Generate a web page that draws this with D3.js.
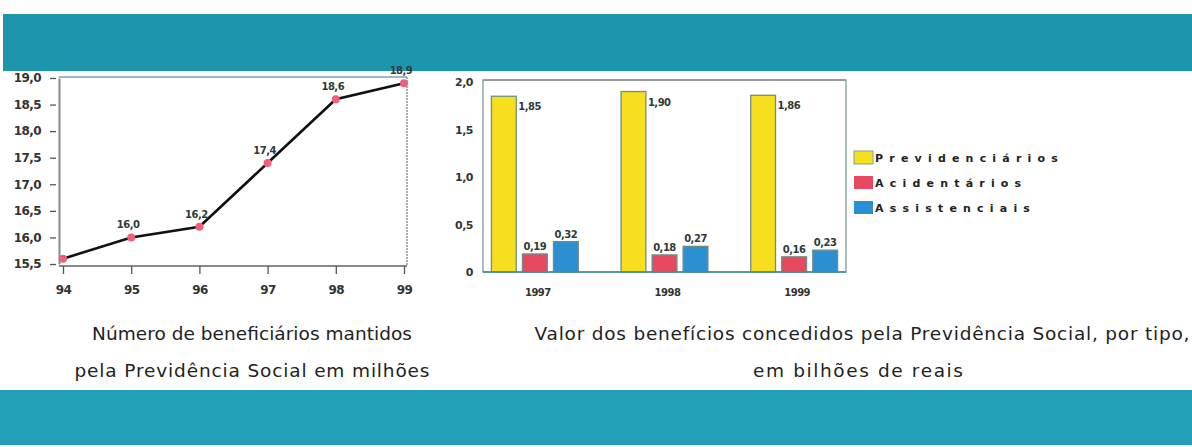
<!DOCTYPE html>
<html>
<head>
<meta charset="utf-8">
<script src="https://cdn.jsdelivr.net/npm/d3@7"></script>
<style>
  html, body { margin: 0; padding: 0; background: #ffffff; }
  svg { display: block; }
</style>
</head>
<body>
<svg id="chart" width="1192" height="447"></svg>
<script>
// Beneficiários mantidos (milhões), 1994-1999
const years = ["94", "95", "96", "97", "98", "99"];
const beneficiarios = [15.6, 16.0, 16.2, 17.4, 18.6, 18.9];
const beneficiariosLabeled = [false, true, true, true, true, true];
const lineTicks = [15.5, 16.0, 16.5, 17.0, 17.5, 18.0, 18.5, 19.0];

// Valor dos benefícios concedidos (bilhões de reais), por tipo
const barYears = ["1997", "1998", "1999"];
const seriesNames = ["Previdenciários", "Acidentários", "Assistenciais"];
const previdenciarios = [1.85, 1.90, 1.86];
const acidentarios = [0.19, 0.18, 0.16];
const assistenciais = [0.32, 0.27, 0.23];
const barTicks = [0, 0.5, 1.0, 1.5, 2.0];

const seriesColors = ["#f6e01e", "#e5485f", "#2b8fd2"];
const seriesValues = [previdenciarios, acidentarios, assistenciais];

const svg = d3.select("#chart");
const comma = (f) => (v) => d3.format(f)(v).replace(".", ",");

// Decorative bands
svg.append("rect").attr("x", 3).attr("y", 14).attr("width", 1189).attr("height", 57)
  .attr("fill", "#1c95ad");
svg.append("rect").attr("x", 0).attr("y", 390).attr("width", 1192).attr("height", 55)
  .attr("fill", "#22a0b8");

const tickFont = "'DejaVu Sans', Verdana, sans-serif";

// ---------- Line chart ----------
const lx = d3.scalePoint().domain(years).range([63, 404]);
const ly = d3.scaleLinear().domain([15.5, 19.0]).range([264, 78]);

const lg = svg.append("g");
// frame: top and right border
lg.append("line").attr("x1", 59).attr("x2", 407).attr("y1", 77).attr("y2", 77)
  .attr("stroke", "#7fa3a8").attr("stroke-width", 1.5);
lg.append("line").attr("x1", 407).attr("x2", 407).attr("y1", 77).attr("y2", 266)
  .attr("stroke", "#8a9a9a").attr("stroke-width", 1.5).attr("stroke-dasharray", "2,1");

const lyAxis = lg.append("g").attr("transform", "translate(59,0)")
  .call(d3.axisLeft(ly).tickValues(lineTicks).tickFormat(comma(".1f")).tickSize(9).tickSizeOuter(0));
const lxAxis = lg.append("g").attr("transform", "translate(0,266)")
  .call(d3.axisBottom(lx).tickSize(8).tickSizeOuter(0));
lxAxis.select(".domain").attr("d", "M59,0H407");
[lyAxis, lxAxis].forEach(a => {
  a.select(".domain").attr("stroke", "#8a8a8a").attr("stroke-width", 2);
  a.selectAll(".tick line").attr("stroke", "#555").attr("stroke-width", 1.3);
  a.selectAll("text").attr("fill", "#333").attr("font-family", tickFont)
    .attr("font-weight", "bold").attr("font-size", 12).attr("letter-spacing", -0.6);
});
lyAxis.selectAll(".tick line").attr("x1", -3);
lyAxis.selectAll("text").attr("x", -18);
lxAxis.selectAll("text").attr("y", 19);

const lineGen = d3.line().x((d, i) => lx(years[i])).y(d => ly(d));
lg.append("path").datum(beneficiarios).attr("d", lineGen)
  .attr("fill", "none").attr("stroke", "#111").attr("stroke-width", 2.6);
lg.selectAll("circle.pt").data(beneficiarios).join("circle")
  .attr("class", "pt")
  .attr("cx", (d, i) => lx(years[i])).attr("cy", d => ly(d)).attr("r", 4)
  .attr("fill", "#f0607a");
lg.selectAll("text.val").data(beneficiarios.filter((d, i) => beneficiariosLabeled[i]))
  .join("text").attr("class", "val")
  .attr("x", (d) => lx(years[beneficiarios.indexOf(d)]) - 3)
  .attr("y", d => ly(d) - 9)
  .attr("text-anchor", "middle")
  .attr("font-family", tickFont).attr("font-weight", "bold").attr("font-size", 10)
  .attr("letter-spacing", -0.5).attr("fill", "#2f3a3a")
  .text(comma(".1f"));

// ---------- Bar chart ----------
const bx0 = d3.scaleBand().domain(barYears).range([483, 846]).paddingInner(0.33).paddingOuter(0.065);
const bx1 = d3.scaleBand().domain(seriesNames).range([0, bx0.bandwidth()]).paddingInner(0.2);
const by = d3.scaleLinear().domain([0, 2.0]).range([272, 82]);

const bg = svg.append("g");
bg.append("rect").attr("x", 483).attr("y", 80).attr("width", 363).attr("height", 192)
  .attr("fill", "none").attr("stroke", "#8fa8a8").attr("stroke-width", 1.5);
bg.append("line").attr("x1", 483).attr("x2", 846).attr("y1", 80).attr("y2", 80)
  .attr("stroke", "#9a9a9a").attr("stroke-width", 2);

const byAxis = bg.append("g").attr("transform", "translate(483,0)")
  .call(d3.axisLeft(by).tickValues(barTicks)
    .tickFormat(v => v === 0 ? "0" : comma(".1f")(v)).tickSize(0));
byAxis.select(".domain").remove();
byAxis.selectAll("text").attr("x", -10).attr("fill", "#333").attr("font-family", tickFont)
  .attr("font-weight", "bold").attr("font-size", 11).attr("letter-spacing", -0.5);

const groups = bg.selectAll("g.grp").data(barYears).join("g")
  .attr("class", "grp").attr("transform", d => `translate(${bx0(d)},0)`);
groups.selectAll("rect").data((d, gi) => seriesNames.map((s, si) => ({ s, si, v: seriesValues[si][gi] })))
  .join("rect")
  .attr("x", d => bx1(d.s)).attr("width", bx1.bandwidth())
  .attr("y", d => by(d.v)).attr("height", d => by(0) - by(d.v))
  .attr("fill", d => seriesColors[d.si])
  .attr("stroke", "#6f8f86").attr("stroke-width", 1.3);
groups.selectAll("text.bv").data((d, gi) => seriesNames.map((s, si) => ({ s, si, v: seriesValues[si][gi] })))
  .join("text").attr("class", "bv")
  .attr("x", d => d.si === 0 ? bx1(d.s) + bx1.bandwidth() + 2 : bx1(d.s) + bx1.bandwidth() / 2)
  .attr("y", d => d.si === 0 ? by(d.v) + 14 : by(d.v) - 4)
  .attr("text-anchor", d => d.si === 0 ? "start" : "middle")
  .attr("font-family", tickFont).attr("font-weight", "bold").attr("font-size", 10)
  .attr("letter-spacing", -0.5).attr("fill", "#2f3a3a")
  .text(d => comma(".2f")(d.v));

// baseline
bg.append("line").attr("x1", 483).attr("x2", 846).attr("y1", by(0)).attr("y2", by(0))
  .attr("stroke", "#3d8f95").attr("stroke-width", 1.5);
// year labels
bg.selectAll("text.yr").data(barYears).join("text").attr("class", "yr")
  .attr("x", d => bx0(d) + bx0.bandwidth() / 2 + 3).attr("y", 296)
  .attr("text-anchor", "middle").attr("font-family", tickFont).attr("font-weight", "bold")
  .attr("font-size", 10).attr("letter-spacing", -0.5).attr("fill", "#333").text(d => d);

// legend
const leg = svg.append("g").attr("transform", "translate(854,151)");
seriesNames.forEach((name, i) => {
  const row = leg.append("g").attr("transform", `translate(0,${i * 25})`);
  row.append("rect").attr("width", 19).attr("height", 13)
    .attr("fill", seriesColors[i]).attr("stroke", i === 0 ? "#8aa08a" : "none");
  row.append("text").attr("x", 21).attr("y", 11)
    .attr("font-family", tickFont).attr("font-weight", "bold").attr("font-size", 11)
    .attr("letter-spacing", 6.2).attr("fill", "#222").text(name);
});

// captions
const capFont = "'DejaVu Sans', Verdana, sans-serif";
const captions = [
  { x: 252, y: 340, w: 320, t: "Número de beneficiários mantidos" },
  { x: 252, y: 377, w: 355, t: "pela Previdência Social em milhões" },
  { x: 862, y: 340, w: 655, t: "Valor dos benefícios concedidos pela Previdência Social, por tipo," },
  { x: 858, y: 377, w: 210, t: "em bilhões de reais" }
];
svg.selectAll("text.cap").data(captions).join("text").attr("class", "cap")
  .attr("x", d => d.x).attr("y", d => d.y).attr("text-anchor", "middle")
  .attr("font-family", capFont).attr("font-size", 18.5).attr("fill", "#222")
  .attr("textLength", d => d.w).attr("lengthAdjust", "spacing")
  .text(d => d.t);
</script>
</body>
</html>
